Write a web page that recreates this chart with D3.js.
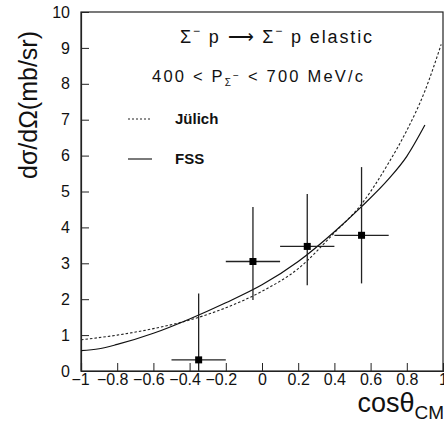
<!DOCTYPE html>
<html>
<head>
<meta charset="utf-8">
<script src="https://cdn.jsdelivr.net/npm/d3@7"></script>
<style>
  body { margin: 0; background: #fff; }
  svg { display: block; }
  text { font-family: "Liberation Sans", Arial, sans-serif; fill: #111; }
</style>
</head>
<body>
<div id="chart"></div>
<script>
// measured points (cos theta, dsigma/dOmega)
const pointCos = [-0.35, -0.05, 0.25, 0.55];
const pointCosLow = [-0.5, -0.2, 0.1, 0.4];
const pointCosHigh = [-0.2, 0.1, 0.4, 0.7];
const pointValues = [0.31, 3.05, 3.47, 3.78];
const pointErrLow = [0, 1.98, 2.39, 2.44];
const pointErrHigh = [2.16, 4.57, 4.93, 5.68];

// theory curves
const julichCos = [-1, -0.8, -0.6, -0.4, -0.2, 0, 0.2, 0.4, 0.55, 0.7, 0.8, 0.9, 0.99];
const julichValues = [0.87, 1.0, 1.18, 1.42, 1.76, 2.22, 2.85, 3.85, 4.65, 5.8, 6.7, 7.8, 9.1];
const fssCos = [-1, -0.9, -0.8, -0.6, -0.4, -0.2, 0, 0.2, 0.4, 0.55, 0.7, 0.8, 0.9];
const fssValues = [0.57, 0.62, 0.74, 1.05, 1.45, 1.9, 2.4, 3.05, 3.88, 4.58, 5.35, 5.98, 6.85];

const xTicks = [-1, -0.8, -0.6, -0.4, -0.2, 0, 0.2, 0.4, 0.6, 0.8, 1];
const yTicks = [0, 1, 2, 3, 4, 5, 6, 7, 8, 9, 10];

const width = 444, height = 427;
const margin = {top: 12, right: 1, bottom: 56, left: 81};
const plotW = width - margin.left - margin.right;
const plotH = height - margin.top - margin.bottom;

const x = d3.scaleLinear().domain([-1, 1]).range([0, plotW]);
const y = d3.scaleLinear().domain([0, 10]).range([plotH, 0]);

const svg = d3.select("#chart").append("svg")
    .attr("width", width)
    .attr("height", height);

const g = svg.append("g")
    .attr("transform", `translate(${margin.left},${margin.top})`);

g.append("clipPath").attr("id", "clip")
    .append("rect").attr("width", plotW).attr("height", plotH);

// frame
g.append("rect")
    .attr("width", plotW)
    .attr("height", plotH)
    .attr("fill", "none")
    .attr("stroke", "#222")
    .attr("stroke-width", 1.2);

const fmt = d => (d < 0 ? "\u2212" : "") + String(Math.abs(d));

// x axis: major ticks every 0.2, minor every 0.05, inward
const xAxis = g.append("g").attr("transform", `translate(0,${plotH})`);
xAxis.call(d3.axisBottom(x).tickValues(d3.range(-1, 1.001, 0.05)).tickSize(-4).tickFormat(""));
xAxis.call(d3.axisBottom(x).tickValues(xTicks).tickSize(-8).tickPadding(3).tickFormat(d => fmt(+d.toFixed(1))));
xAxis.selectAll(".domain").attr("stroke", "#222").attr("stroke-width", 1.2);
xAxis.selectAll("line").attr("stroke", "#222");
xAxis.selectAll("text")
    .attr("font-size", 16).attr("fill", "#222")
    .attr("dx", d => d === -1 ? -1 : d < 0 ? -5 : 0);

// y axis: major ticks every 1, minor every 0.2, inward
const yAxis = g.append("g");
yAxis.call(d3.axisLeft(y).tickValues(d3.range(0, 10.001, 0.2)).tickSize(-4).tickFormat(""));
yAxis.call(d3.axisLeft(y).tickValues(yTicks).tickSize(-8).tickPadding(11).tickFormat(d3.format("d")));
yAxis.selectAll(".domain").attr("stroke", "#222").attr("stroke-width", 1.2);
yAxis.selectAll("line").attr("stroke", "#222");
yAxis.selectAll("text").attr("font-size", 16).attr("fill", "#222");

// curves
const line = d3.line().x(d => x(d[0])).y(d => y(d[1])).curve(d3.curveMonotoneX);
const curves = g.append("g").attr("clip-path", "url(#clip)");
curves.append("path")
    .attr("d", line(d3.zip(julichCos, julichValues)))
    .attr("fill", "none")
    .attr("stroke", "#222")
    .attr("stroke-width", 1.1)
    .attr("stroke-dasharray", "2.5,2");
curves.append("path")
    .attr("d", line(d3.zip(fssCos, fssValues)))
    .attr("fill", "none")
    .attr("stroke", "#111")
    .attr("stroke-width", 1.2);

// data points with error bars
const pts = g.append("g").selectAll("g")
    .data(d3.range(pointCos.length))
    .join("g");
pts.append("line")
    .attr("x1", i => x(pointCosLow[i])).attr("x2", i => x(pointCosHigh[i]))
    .attr("y1", i => y(pointValues[i])).attr("y2", i => y(pointValues[i]))
    .attr("stroke", "#222").attr("stroke-width", 1.3);
pts.append("line")
    .attr("x1", i => x(pointCos[i])).attr("x2", i => x(pointCos[i]))
    .attr("y1", i => y(pointErrLow[i])).attr("y2", i => y(pointErrHigh[i]))
    .attr("stroke", "#222").attr("stroke-width", 1.3);
pts.append("rect")
    .attr("x", i => x(pointCos[i]) - 3.5).attr("y", i => y(pointValues[i]) - 3.5)
    .attr("width", 7).attr("height", 7)
    .attr("fill", "#000");

// annotations
const title = g.append("text")
    .attr("x", 99).attr("y", 31)
    .attr("font-family", "'DejaVu Sans', sans-serif")
    .attr("font-size", 18)
    .attr("textLength", 192).attr("lengthAdjust", "spacing");
title.append("tspan").text("\u03A3");
title.append("tspan").attr("dy", -8).attr("font-size", 12).text("\u2212");
title.append("tspan").attr("dy", 8).text(" p \u27F6 \u03A3");
title.append("tspan").attr("dy", -8).attr("font-size", 12).text("\u2212");
title.append("tspan").attr("dy", 8).text(" p elastic");

const range = g.append("text")
    .attr("x", 71).attr("y", 70)
    .attr("font-family", "'DejaVu Sans', sans-serif")
    .attr("font-size", 16.5)
    .attr("textLength", 211).attr("lengthAdjust", "spacing");
range.append("tspan").text("400 < P");
range.append("tspan").attr("dy", 4).attr("font-size", 10).text("\u03A3");
range.append("tspan").attr("dy", -7).attr("font-size", 10).text("\u2212");
range.append("tspan").attr("dy", 3).text(" < 700 MeV/c");

// legend
const legendNames = ["J\u00FClich", "FSS"];
const legend = g.append("g").selectAll("g")
    .data(legendNames)
    .join("g")
    .attr("transform", (d, i) => `translate(47,${107 + i * 40})`);
legend.append("line")
    .attr("x1", 0).attr("x2", 24)
    .attr("stroke", "#222")
    .attr("stroke-width", (d, i) => i === 0 ? 1.1 : 1.2)
    .attr("stroke-dasharray", (d, i) => i === 0 ? "2,2" : null);
legend.append("text")
    .attr("x", 47).attr("dy", "0.35em")
    .attr("font-size", 15).attr("font-weight", "bold")
    .text(d => d);

// axis titles
svg.append("text")
    .attr("transform", "translate(37,105) rotate(-90)")
    .attr("text-anchor", "middle")
    .attr("font-size", 25)
    .text("d\u03C3/d\u03A9(mb/sr)");

const xTitle = svg.append("text")
    .attr("x", 444).attr("y", 412)
    .attr("text-anchor", "end")
    .attr("font-size", 27);
xTitle.append("tspan").text("cos\u03B8");
xTitle.append("tspan").attr("dy", 7).attr("font-size", 19).text("CM");
</script>
</body>
</html>
